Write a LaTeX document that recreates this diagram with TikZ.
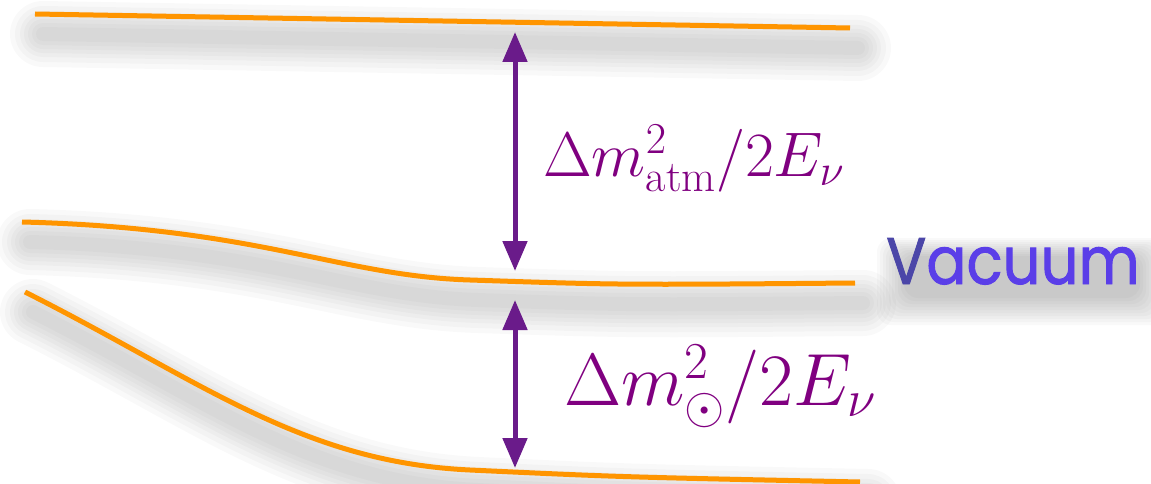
\RequirePackage{fix-cm}
\documentclass[tikz,border=0pt]{standalone}
\usepackage{fontspec}
\newfontfamily\vacfont[FakeBold=1.5]{Poppins}
\usetikzlibrary{arrows.meta}
\definecolor{lvl}{HTML}{FF9500}
\definecolor{arr}{HTML}{6A1B8A}
\definecolor{lab}{HTML}{800080}
\definecolor{vac}{HTML}{5A3EE8}
\definecolor{vacV}{HTML}{4B46A8}
\tikzset{
  level/.style={draw=lvl,line width=5pt},
  shadowline/.style={draw=black,line width=#1,opacity=0.022,line cap=round},
  gap/.style={draw=arr,line width=5pt,{Triangle[width=24pt,length=30pt]}-{Triangle[width=24pt,length=30pt]}},
  lbl/.style={text=lab,inner sep=0pt},
  vacshadow/.style={fill=black,opacity=0.025,rounded corners=14pt},
}
\newcommand{\shadowof}[1]{%
  \foreach \w in {66pt,56pt,46pt,38pt,30pt,22pt,14pt}{\path[shadowline=\w,yshift=-20pt,xshift=8pt] #1;}}
\begin{document}
\begin{tikzpicture}[x=1pt,y=-1pt]
\useasboundingbox (0,0) rectangle (1151,484);
\def\pa{(35,14) -- (850,28)}
\def\pb{(22,222) .. controls (260,228) and (340,276) .. (470,280) .. controls (620,285) .. (855,283)}
\def\pc{(25,292) .. controls (200,380) and (300,462) .. (470,470) .. controls (620,477) .. (860,482)}
\shadowof{\pa}
\shadowof{\pb}
\shadowof{\pc}
\path[level] \pa;
\path[level] \pb;
\path[level] \pc;
\coordinate (t1) at (515,32);
\coordinate (b1) at (515,271);
\coordinate (t2) at (515,300);
\coordinate (b2) at (515,468);
\draw[gap] (t1) -- (b1);
\draw[gap] (t2) -- (b2);
\node[lbl,anchor=base west,font=\fontsize{63}{70}\selectfont] (atm) at (543,176) {$\Delta m^2_{\mathrm{atm}}/2E_\nu$};
\node[lbl,anchor=base west,font=\fontsize{74}{80}\selectfont] (sol) at (564,405) {$\Delta m^2_{\odot}/2E_\nu$};
\foreach \i in {0,...,9}{
  \path[vacshadow] (904-\i*3,256-\i*2) rectangle (1140+\i*3,298+\i*3);}
\node[text=vac,font=\vacfont\fontsize{66}{70}\selectfont,anchor=base west,inner sep=0pt,xscale=0.9] (vacuum) at (886,284) {\textcolor{vacV}{V}acuum};
\end{tikzpicture}
\end{document}
